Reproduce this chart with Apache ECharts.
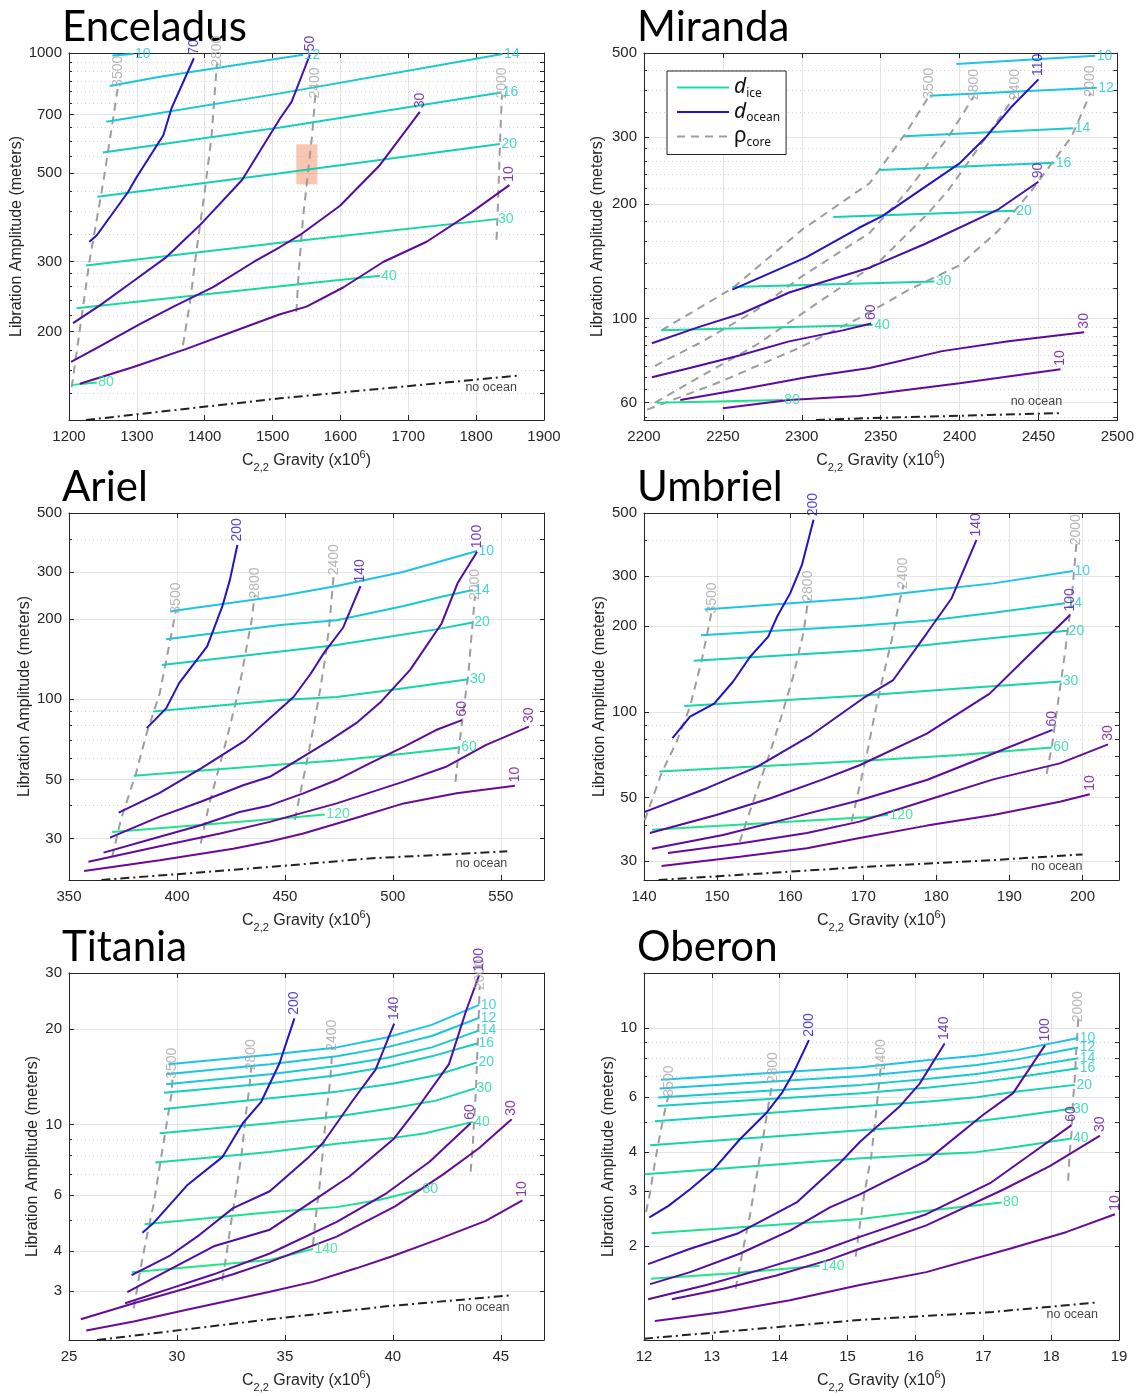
<!DOCTYPE html>
<html>
<head>
<meta charset="utf-8">
<title>Libration amplitude vs C22 gravity</title>
<script src="https://cdn.jsdelivr.net/npm/echarts@6.0.0/dist/echarts.min.js"></script>
<style>
  html, body { margin: 0; padding: 0; background: #fff; }
  #chart { width: 1137px; height: 1396px; }
</style>
</head>
<body>
<div id="chart"></div>
<script>
// ---------------- data (x = C22 gravity x1e6, y = libration amplitude in m) ----------------
// each line: [label, [[x, y], ...]]

// Enceladus
const encX = [1200, 1900, 100];
const encY = [120, 1000];
const encYTicks = [200, 300, 500, 700, 1000];
const encYMinor = [140, 160, 180, 220, 240, 260, 280, 350, 400, 450, 550, 600, 650, 750, 800, 850, 900, 950];
const encIce = [
  [10, [[1264, 985], [1295, 994]]],
  [12, [[1260, 826], [1334, 872], [1545, 990]]],
  [14, [[1255, 672], [1511, 792], [1839, 994]]],
  [16, [[1250, 563], [1511, 650], [1837, 796]]],
  [20, [[1242, 436], [1511, 499], [1835, 591]]],
  [30, [[1225, 293], [1511, 334], [1830, 383]]],
  [40, [[1211, 229], [1511, 260], [1658, 276]]],
  [80, [[1205, 147], [1241, 149]]]
];
const encOcean = [
  [70, [[1230, 336], [1241, 349], [1287, 448], [1300, 489], [1339, 622], [1351, 726], [1384, 970]]],
  [50, [[1206, 210], [1246, 233], [1290, 264], [1344, 308], [1393, 370], [1455, 480], [1511, 685], [1528, 754], [1555, 990]]],
  [30, [[1203, 168], [1246, 184], [1305, 209], [1354, 231], [1413, 259], [1472, 299], [1511, 326], [1540, 349], [1599, 413], [1658, 523], [1717, 712]]],
  [10, [[1216, 148], [1295, 163], [1373, 181], [1452, 203], [1511, 221], [1550, 231], [1604, 258], [1663, 299], [1727, 336], [1791, 396], [1849, 466]]]
];
const encCore = [
  [3500, [[1204, 145], [1230, 299], [1251, 480], [1273, 839]]],
  [2800, [[1368, 185], [1378, 235], [1388, 320], [1399, 436], [1410, 616], [1418, 942]]],
  [2400, [[1535, 224], [1539, 290], [1545, 388], [1551, 480], [1558, 616], [1563, 784]]],
  [2000, [[1830, 340], [1832, 411], [1834, 518], [1836, 653], [1838, 784]]]
];
const encNoOcean = [[1225, 120], [1511, 136], [1860, 155]];
const encBox = [[1535, 468], [1566, 590]];

// Miranda
const mirX = [2200, 2500, 50];
const mirY = [54, 500];
const mirYTicks = [60, 100, 200, 300, 500];
const mirYMinor = [55, 65, 70, 75, 80, 85, 90, 95, 120, 140, 160, 180, 220, 240, 260, 280, 350, 400, 450];
const mirIce = [
  [10, [[2398, 468], [2486, 492]]],
  [12, [[2381, 386], [2487, 405]]],
  [14, [[2365, 302], [2472, 317]]],
  [16, [[2349, 246], [2460, 257]]],
  [20, [[2320, 185], [2435, 192]]],
  [30, [[2256, 121], [2384, 125]]],
  [40, [[2211, 93], [2345, 96]]],
  [80, [[2208, 60], [2288, 61]]]
];
const mirOcean = [
  [110, [[2256, 119], [2303, 145], [2336, 173], [2351, 186], [2400, 256], [2417, 301], [2433, 361], [2450, 426]]],
  [90, [[2205, 86], [2235, 95], [2262, 103], [2292, 117], [2317, 126], [2343, 136], [2378, 157], [2424, 193], [2450, 229]]],
  [60, [[2205, 70], [2229, 74], [2261, 80], [2292, 87], [2326, 93], [2344, 97]]],
  [30, [[2223, 61], [2261, 65], [2303, 70], [2343, 74], [2389, 82], [2431, 87], [2479, 92]]],
  [10, [[2250, 58], [2292, 61], [2336, 62.5], [2400, 67.5], [2464, 73.5]]]
];
const mirCore = [
  [3500, [[2211, 93], [2256, 120], [2300, 171], [2343, 227], [2366, 308], [2381, 387]]],
  [2800, [[2207, 75], [2235, 86], [2271, 105], [2300, 129], [2343, 168], [2366, 214], [2393, 301], [2409, 384]]],
  [2400, [[2207, 60], [2235, 70], [2271, 85], [2313, 112], [2349, 141], [2380, 189], [2393, 218], [2417, 301], [2435, 384]]],
  [2000, [[2202, 57.5], [2248, 68], [2298, 83.5], [2336, 100], [2368, 119], [2400, 138], [2425, 171], [2446, 218], [2471, 301], [2483, 392]]]
];
const mirNoOcean = [[2309, 54], [2336, 54.5], [2465, 56.3]];

// Ariel
const arX = [350, 570, 50];
const arY = [21, 500];
const arYTicks = [30, 50, 100, 200, 300, 500];
const arYMinor = [40, 60, 70, 80, 90, 400];
const arIce = [
  [10, [[397, 214], [448, 244], [474, 266], [505, 301], [539, 360]]],
  [14, [[395, 168], [448, 190], [474, 198], [505, 224], [523, 243], [537, 257]]],
  [20, [[393, 134.5], [448, 151], [474, 160], [499, 172], [520, 183], [537, 194]]],
  [30, [[389, 90], [448, 99.4], [474, 102], [505, 110], [535, 119]]],
  [60, [[380, 51.7], [448, 57], [474, 59], [505, 62.5], [531, 66]]],
  [120, [[370, 31.8], [448, 35.7], [468.5, 37]]]
];
const arOcean = [
  [200, [[386, 78], [395, 92.5], [401, 115], [414, 158], [421, 223], [424.5, 280], [428, 379]]],
  [140, [[373, 37.6], [392, 44.6], [411, 55], [431.5, 70], [443, 85], [454, 102], [462, 125], [468, 149], [477, 186], [485, 266]]],
  [100, [[369, 30.3], [392, 36.3], [411, 41.3], [431, 47.7], [443, 51.2], [458.5, 61], [471, 70.3], [483, 81.4], [494, 97], [508, 129], [522.5, 192], [530, 273], [539, 358]]],
  [60, [[366, 26.6], [392, 30.5], [411, 33.7], [429, 37.8], [443, 40], [458.5, 44.4], [474, 49.8], [489, 57.4], [505, 66.3], [520, 76.7], [532, 83.6]]],
  [30, [[359, 24.6], [392, 28.1], [420, 31.4], [443, 34.7], [474, 40.7], [505, 49.1], [525, 56], [543, 67.3], [563, 79]]],
  [10, [[357, 22.7], [392, 24.9], [426, 27.5], [443, 29.3], [458.5, 31.4], [482, 35.7], [505, 40.7], [529.5, 44.4], [556.5, 47.4]]]
];
const arCore = [
  [3500, [[370, 25.6], [374, 35.3], [381, 52.7], [386, 74.7], [392, 105], [395, 140], [397.5, 177], [399.5, 216]]],
  [2800, [[411, 28.8], [415, 40.7], [420, 57.4], [424.5, 79], [429, 112], [432, 153], [434.6, 198], [436, 246]]],
  [2400, [[454.6, 35.3], [457.7, 46.9], [460, 57.4], [463, 76.7], [466, 105], [468.5, 140], [470.5, 187], [472.7, 301]]],
  [2000, [[529, 49], [530.7, 66.3], [532.5, 88.5], [535, 125], [536.4, 172], [538, 243]]]
];
const arNoOcean = [[365, 21], [443, 23.5], [489, 25.3], [553, 26.9]];

// Umbriel
const umX = [140, 205, 10];
const umY = [25.7, 500];
const umYTicks = [30, 50, 100, 200, 300, 500];
const umYMinor = [40, 60, 70, 80, 90, 400];
const umIce = [
  [10, [[148.3, 229], [169.5, 251], [178.7, 267], [187.8, 283], [198.7, 313]]],
  [14, [[147.8, 186], [169.5, 201], [178.7, 209], [187.8, 223], [197.6, 241]]],
  [20, [[146.8, 151.5], [169.5, 164], [178.7, 172], [187.8, 182], [197.9, 193]]],
  [30, [[145.5, 105], [169.5, 114], [183.2, 121], [197.1, 128]]],
  [60, [[142.1, 61.8], [169.5, 67.3], [183.2, 70.6], [195.8, 75]]],
  [120, [[141.1, 38.6], [170.9, 42.8], [173.4, 43.6]]]
];
const umOcean = [
  [200, [[143.9, 81], [146.3, 96.4], [149.6, 107], [152.2, 128], [154.5, 156], [157, 184], [158.2, 216], [160, 261], [161.6, 328], [163.2, 473]]],
  [140, [[140.1, 44.6], [148.6, 54], [155.4, 64], [162.9, 83], [170, 111.8], [174.1, 129.5], [178.7, 189], [182.1, 251], [185.5, 402]]],
  [100, [[140.8, 37.6], [149.9, 43.5], [157.2, 49.7], [164.5, 58], [169.5, 65], [178.7, 84], [187.3, 116], [192.4, 156], [198.3, 219]]],
  [60, [[141.1, 33.1], [150.8, 37], [160, 42.4], [169.5, 49], [178.7, 57.7], [187.8, 71.5], [195.9, 86.5]]],
  [30, [[143.3, 32], [153.1, 34.5], [162.3, 37.6], [169.5, 41.2], [178.7, 49], [187.8, 58], [196.9, 66], [203.5, 77]]],
  [10, [[142.4, 28.8], [153.1, 31], [162.3, 33.2], [169.5, 36.1], [178.7, 39.9], [187.8, 43.5], [196.9, 48.4], [201, 51.4]]]
];
const umCore = [
  [3500, [[140.1, 41.7], [142.4, 61], [144.5, 79], [146.3, 104.5], [147.9, 152], [149.3, 228]]],
  [2800, [[153.1, 35], [155, 49], [157.2, 71.5], [158.8, 96.4], [160.4, 133], [161.8, 189], [162.5, 251]]],
  [2400, [[168.4, 41.2], [169.8, 59.2], [170.7, 75.4], [171.6, 99], [172.7, 133], [173.9, 179], [174.7, 228], [175.5, 279]]],
  [2000, [[195.1, 60.6], [195.8, 75.4], [196.7, 110], [197.6, 161], [198.5, 247.5], [199.2, 396]]]
];
const umNoOcean = [[142, 25.7], [169.5, 28.5], [187.8, 30.2], [200, 31.6]];

// Titania
const tiX = [25, 47, 5];
const tiY = [2.1, 30];
const tiYTicks = [3, 4, 6, 10, 20, 30];
const tiYMinor = [5, 7, 8, 9];
const tiIce = [
  [10, [[29.6, 15.5], [34.3, 16.6], [37.4, 17.5], [39.7, 18.8], [41.8, 20.6], [44, 23.8]]],
  [12, [[29.5, 14.4], [34.3, 15.5], [37.4, 16.4], [39.7, 17.5], [41.8, 19], [44, 21.7]]],
  [14, [[29.5, 13.4], [34.3, 14.4], [37.4, 15.3], [39.7, 16.2], [41.8, 17.5], [44, 19.8]]],
  [16, [[29.4, 12.6], [34.3, 13.5], [37.4, 14.3], [39.7, 15.2], [41.8, 16.4], [43.9, 18]]],
  [20, [[29.4, 11.2], [34.3, 12.1], [37.4, 12.7], [40.1, 13.5], [42, 14.3], [43.9, 15.7]]],
  [30, [[29.2, 9.4], [34.3, 10.1], [37.4, 10.6], [40.1, 11.3], [42, 11.9], [43.8, 13]]],
  [40, [[29, 7.6], [34.3, 8.2], [37.4, 8.7], [40.1, 9.1], [41.5, 9.4], [43.7, 10.2]]],
  [80, [[28.5, 4.86], [34.3, 5.3], [37.4, 5.5], [39.4, 5.8], [41.3, 6.25]]],
  [140, [[27.9, 3.43], [34.3, 3.75], [36.3, 4.06]]]
];
const tiOcean = [
  [200, [[28.4, 4.57], [28.9, 4.89], [30.5, 6.47], [32.1, 7.9], [33.05, 10.1], [33.9, 11.8], [34.75, 15.6], [35.44, 21.6]]],
  [140, [[27.9, 3.36], [29.7, 3.88], [31.05, 4.5], [32.6, 5.46], [34.3, 6.17], [36.1, 7.9], [36.75, 8.74], [38.1, 11.8], [39.2, 14.9], [40.06, 20.8]]],
  [100, [[27.7, 2.97], [29.5, 3.45], [31.7, 4.14], [34.3, 4.67], [35.8, 5.46], [38, 6.88], [40.06, 9.05], [41.07, 11.1], [42.6, 15.5], [43.4, 22.9], [44, 29.6]]],
  [60, [[27.6, 2.74], [29.5, 3.02], [31.7, 3.38], [34.3, 3.93], [37.4, 4.94], [39.7, 6.08], [41.7, 7.64], [43.6, 10.1]]],
  [30, [[25.55, 2.44], [28, 2.74], [30.4, 3.05], [32.6, 3.38], [34.3, 3.7], [37.4, 4.44], [40.1, 5.53], [42.3, 6.95], [44, 8.44], [45.5, 10.4]]],
  [10, [[25.8, 2.25], [28, 2.4], [30.4, 2.61], [32.6, 2.81], [34.3, 2.98], [36.3, 3.2], [38.3, 3.53], [40, 3.86], [42, 4.33], [44.3, 4.98], [46, 5.78]]]
];
const tiCore = [
  [3500, [[28, 2.64], [28.3, 3.49], [28.6, 4.44], [28.9, 5.53], [29.2, 7.37], [29.5, 9.85], [29.75, 12.5], [29.8, 14.3]]],
  [2800, [[32.1, 3.23], [32.3, 3.93], [32.5, 4.89], [32.75, 6.25], [33, 8.12], [33.2, 10.9], [33.36, 13.2], [33.44, 15.2]]],
  [2400, [[36.3, 4.18], [36.45, 5.27], [36.6, 6.38], [36.75, 8.12], [36.9, 10.6], [37.1, 13.8], [37.2, 17.5]]],
  [2000, [[43.6, 7.11], [43.7, 8.53], [43.76, 10.3], [43.84, 12.5], [43.9, 16], [43.96, 20.3], [44.02, 27.2]]]
];
const tiNoOcean = [[26.3, 2.1], [34.3, 2.44], [39.7, 2.68], [45.4, 2.9]];

// Oberon
const obX = [12, 19, 1];
const obY = [1, 15];
const obYTicks = [2, 3, 4, 6, 10];
const obYMinor = [5, 7, 8, 9];
const obIce = [
  [10, [[12.25, 6.82], [15.2, 7.48], [16.2, 7.89], [16.9, 8.14], [17.5, 8.49], [18.4, 9.29]]],
  [12, [[12.23, 6.4], [15.2, 7.02], [16.2, 7.34], [16.9, 7.61], [17.5, 7.93], [18.4, 8.66]]],
  [14, [[12.21, 5.99], [15.2, 6.57], [16.2, 6.87], [16.9, 7.12], [17.5, 7.43], [18.4, 7.99]]],
  [16, [[12.2, 5.62], [15.2, 6.18], [16.2, 6.44], [16.9, 6.68], [17.5, 6.95], [18.4, 7.43]]],
  [20, [[12.16, 5.02], [15.2, 5.61], [16.2, 5.81], [16.9, 6.0], [17.5, 6.26], [18.35, 6.57]]],
  [30, [[12.09, 4.21], [15.2, 4.7], [16.2, 4.87], [16.9, 5.02], [17.5, 5.21], [18.3, 5.51]]],
  [40, [[12.01, 3.4], [15.2, 3.82], [16.2, 3.93], [16.9, 4.0], [17.5, 4.16], [18.3, 4.42]]],
  [80, [[12.11, 2.2], [15.2, 2.44], [16.2, 2.6], [17.27, 2.76]]],
  [140, [[12.1, 1.57], [13.37, 1.64], [14.59, 1.73]]]
];
const obOcean = [
  [200, [[12.08, 2.47], [12.36, 2.69], [12.68, 3.04], [13.02, 3.51], [13.41, 4.39], [13.81, 5.36], [14.03, 6.18], [14.21, 7.24], [14.43, 9.14]]],
  [140, [[12.06, 1.75], [12.68, 1.96], [13.37, 2.19], [13.95, 2.55], [14.25, 2.76], [14.89, 3.7], [15.18, 4.31], [15.77, 5.61], [16.06, 6.62], [16.43, 8.92]]],
  [100, [[12.09, 1.51], [12.68, 1.65], [13.41, 1.89], [14.15, 2.24], [14.74, 2.66], [15.18, 2.93], [16.16, 3.75], [17.0, 5.27], [17.44, 6.18], [17.91, 8.81]]],
  [60, [[12.06, 1.35], [12.92, 1.5], [13.76, 1.69], [14.64, 1.94], [15.18, 2.14], [16.16, 2.53], [17.1, 3.18], [17.73, 3.98], [18.3, 4.88]]],
  [30, [[12.41, 1.35], [13.17, 1.46], [13.95, 1.61], [14.74, 1.81], [15.18, 1.96], [16.16, 2.33], [17.29, 3.03], [17.98, 3.61], [18.72, 4.52]]],
  [10, [[12.16, 1.15], [13.17, 1.23], [14.15, 1.34], [15.18, 1.5], [16.16, 1.65], [17.39, 1.96], [18.23, 2.22], [18.94, 2.53]]]
];
const obCore = [
  [3500, [[12.03, 2.57], [12.09, 2.97], [12.16, 3.7], [12.24, 4.61], [12.31, 5.47], [12.37, 6.18]]],
  [2800, [[13.35, 1.46], [13.46, 1.96], [13.56, 2.5], [13.66, 3.36], [13.76, 4.5], [13.83, 5.61], [13.9, 6.82]]],
  [2400, [[15.12, 1.85], [15.18, 2.33], [15.25, 2.97], [15.35, 3.89], [15.43, 5.61], [15.49, 7.51]]],
  [2000, [[18.25, 3.24], [18.27, 3.89], [18.3, 4.61], [18.32, 5.75], [18.35, 6.98], [18.37, 8.49], [18.4, 10.7]]]
];
const obNoOcean = [[12, 1.01], [15.18, 1.16], [17.14, 1.23], [18.69, 1.32]];

const panels = [
  { name: 'Enceladus', x: encX, y: encY, ticks: encYTicks, minor: encYMinor, ice: encIce, ocean: encOcean, core: encCore, noOcean: encNoOcean },
  { name: 'Miranda', x: mirX, y: mirY, ticks: mirYTicks, minor: mirYMinor, ice: mirIce, ocean: mirOcean, core: mirCore, noOcean: mirNoOcean },
  { name: 'Ariel', x: arX, y: arY, ticks: arYTicks, minor: arYMinor, ice: arIce, ocean: arOcean, core: arCore, noOcean: arNoOcean },
  { name: 'Umbriel', x: umX, y: umY, ticks: umYTicks, minor: umYMinor, ice: umIce, ocean: umOcean, core: umCore, noOcean: umNoOcean },
  { name: 'Titania', x: tiX, y: tiY, ticks: tiYTicks, minor: tiYMinor, ice: tiIce, ocean: tiOcean, core: tiCore, noOcean: tiNoOcean },
  { name: 'Oberon', x: obX, y: obY, ticks: obYTicks, minor: obYMinor, ice: obIce, ocean: obOcean, core: obCore, noOcean: obNoOcean }
];

// ---------------- layout / style ----------------
const FONT = '"Liberation Sans", Arial, Helvetica, sans-serif';
const INK = '#262626';
const GRID_W = 475, GRID_H = 367;
const layout = [
  { left: 69, top: 53, tLeft: 62, tTop: 6, nameGap: 44, noOceanPos: 'bottom' },
  { left: 644, top: 53, tLeft: 637, tTop: 6, nameGap: 38, noOceanPos: 'top' },
  { left: 69, top: 513, tLeft: 62, tTop: 466, nameGap: 36, noOceanPos: 'bottom' },
  { left: 644, top: 513, tLeft: 637, tTop: 466, nameGap: 36, noOceanPos: 'bottom' },
  { left: 69, top: 973, tLeft: 62, tTop: 926, nameGap: 28, noOceanPos: 'bottom' },
  { left: 644, top: 973, tLeft: 637, tTop: 926, nameGap: 27, noOceanPos: 'bottom' }
];
const iceColor = {
  10: '#1ec3e8', 12: '#1bc6dc', 14: '#18c9d0', 16: '#16ccc3', 20: '#15d0b6', 30: '#17d5a8',
  40: '#1ad99d', 60: '#1cdc96', 80: '#1fe090', 120: '#22e38b', 140: '#24e588'
};
const oceanColors = ['#2212c8', '#440fae', '#540ba3', '#5e0a9e', '#660a99', '#6c0a96'];
const coreColor = '#9d9d9d';

const grids = [], xAxes = [], yAxes = [], series = [], titles = [];

function lbl(pt, text, extra) {
  return { value: pt, label: Object.assign({ show: true, formatter: text, fontSize: 14, fontFamily: FONT }, extra) };
}

panels.forEach((p, i) => {
  const L = layout[i];
  const [xmin, xmax, xstep] = p.x;
  grids.push({ left: L.left, top: L.top, width: GRID_W, height: GRID_H });
  titles.push({
    text: p.name, left: L.tLeft, top: L.tTop, padding: 0,
    textStyle: { fontSize: 42, fontWeight: 'normal', fontFamily: 'Lato, "Noto Sans", sans-serif', color: '#000' }
  });

  xAxes.push({
    gridIndex: i, type: 'value', min: xmin, max: xmax, interval: xstep,
    axisLine: { show: true, onZero: false, lineStyle: { color: INK } },
    axisTick: { inside: true, length: 5, lineStyle: { color: INK } },
    axisLabel: {
      fontSize: 15, color: INK, fontFamily: FONT, margin: 9,
      formatter: v => {
        const k = (v - xmin) / xstep;
        return Math.abs(k - Math.round(k)) < 1e-6 ? String(v) : '';
      }
    },
    splitLine: { show: true, lineStyle: { color: '#e4e4e4' } },
    name: '{c|C}{sub|2,2}{t| Gravity (x10}{sup|6}{t|)}',
    nameLocation: 'middle', nameGap: 29,
    nameTextStyle: {
      fontFamily: FONT, color: INK,
      rich: {
        c: { fontSize: 16, lineHeight: 24, verticalAlign: 'middle', color: INK, fontFamily: FONT },
        t: { fontSize: 16, lineHeight: 24, verticalAlign: 'middle', color: INK, fontFamily: FONT },
        sub: { fontSize: 11, lineHeight: 12, verticalAlign: 'bottom', color: INK, fontFamily: FONT },
        sup: { fontSize: 11, lineHeight: 12, verticalAlign: 'top', color: INK, fontFamily: FONT }
      }
    }
  });
  xAxes.push({
    gridIndex: i, type: 'value', position: 'top', min: xmin, max: xmax, interval: xstep,
    axisLine: { show: true, onZero: false, lineStyle: { color: INK } },
    axisTick: { inside: true, length: 5, lineStyle: { color: INK } },
    axisLabel: { show: false }, splitLine: { show: false }
  });

  // main log axis with labelled ticks
  yAxes.push({
    gridIndex: i, type: 'log', logBase: 10, min: p.y[0], max: p.y[1],
    axisLine: { show: true, onZero: false, lineStyle: { color: INK } },
    axisTick: { inside: true, length: 5, customValues: p.ticks, lineStyle: { color: INK } },
    axisLabel: { customValues: p.ticks, fontSize: 15, color: INK, fontFamily: FONT, margin: 7, formatter: v => String(v) },
    splitLine: { show: true, lineStyle: { color: '#e4e4e4' } },
    name: 'Libration Amplitude (meters)', nameLocation: 'middle', nameGap: L.nameGap,
    nameTextStyle: { fontSize: 16, color: INK, fontFamily: FONT }
  });
  // minor ticks + dotted grid
  yAxes.push({
    gridIndex: i, type: 'log', logBase: 10, min: p.y[0], max: p.y[1], position: 'left',
    axisLine: { show: false },
    axisTick: { inside: true, length: 3, customValues: p.minor, lineStyle: { color: INK } },
    axisLabel: { show: false },
    splitLine: { show: true, lineStyle: { color: '#cfcfcf', type: [1, 3] } }
  });
  // right frame
  yAxes.push({
    gridIndex: i, type: 'log', logBase: 10, min: p.y[0], max: p.y[1], position: 'right',
    axisLine: { show: true, onZero: false, lineStyle: { color: INK } },
    axisTick: { inside: true, length: 4, customValues: p.ticks.concat(p.minor), lineStyle: { color: INK } },
    axisLabel: { show: false }, splitLine: { show: false }
  });

  const xi = 2 * i, yi = 3 * i;
  const labels = [];
  const base = { type: 'line', xAxisIndex: xi, yAxisIndex: yi, symbol: 'none', showSymbol: false, silent: true, animation: false };

  p.core.forEach(([d, pts]) => {
    series.push(Object.assign({}, base, {
      name: 'rho_core', data: pts, z: 2,
      lineStyle: { color: coreColor, width: 2, type: [8, 6] }, itemStyle: { color: coreColor }
    }));
    labels.push(lbl(pts[pts.length - 1], String(d), {
      position: 'top', distance: -4, rotate: 90, align: 'left', verticalAlign: 'middle', color: '#a6a6a6'
    }));
  });

  p.ice.forEach(([d, pts]) => {
    const c = iceColor[d];
    series.push(Object.assign({}, base, {
      name: 'd_ice', data: pts, z: 3, lineStyle: { color: c, width: 2 }, itemStyle: { color: c }
    }));
    labels.push(lbl(pts[pts.length - 1], String(d), { position: 'right', distance: 1, color: c }));
  });

  p.ocean.forEach(([d, pts], k) => {
    const c = oceanColors[Math.min(k, oceanColors.length - 1)];
    series.push(Object.assign({}, base, {
      name: 'd_ocean', data: pts, z: 4, lineStyle: { color: c, width: 2 }, itemStyle: { color: c }
    }));
    labels.push(lbl(pts[pts.length - 1], String(d), {
      position: 'top', distance: 3, rotate: 90, align: 'left', verticalAlign: 'middle', color: c
    }));
  });

  const noOcean = Object.assign({}, base, {
    name: 'no ocean', data: p.noOcean, z: 3,
    lineStyle: { color: '#222', width: 2, type: [9, 4, 2, 4] }, itemStyle: { color: '#222' }
  });
  if (i === 0) {
    noOcean.markArea = {
      silent: true,
      itemStyle: { color: 'rgba(246,140,100,0.5)' },
      data: [[{ coord: encBox[0] }, { coord: encBox[1] }]]
    };
  }
  series.push(noOcean);
  labels.push(lbl(p.noOcean[p.noOcean.length - 1], 'no ocean', {
    position: L.noOceanPos, distance: 5, align: 'right', color: '#111', fontSize: 12.5
  }));

  series.push({
    type: 'scatter', name: 'labels', xAxisIndex: xi, yAxisIndex: yi, data: labels,
    symbol: 'circle', symbolSize: 1, itemStyle: { color: 'rgba(0,0,0,0)' },
    silent: true, clip: false, z: 10, animation: false
  });
});

const legendRich = {
  d: { fontSize: 21, fontStyle: 'italic', fontFamily: '"Noto Sans", sans-serif', color: '#111', lineHeight: 24, verticalAlign: 'middle' },
  r: { fontSize: 21, fontFamily: '"Noto Sans", sans-serif', color: '#111', lineHeight: 24, verticalAlign: 'middle' },
  s: { fontSize: 12, fontFamily: '"Noto Sans", sans-serif', color: '#111', lineHeight: 12, verticalAlign: 'bottom' }
};

const option = {
  animation: false,
  backgroundColor: '#fff',
  textStyle: { fontFamily: FONT },
  title: titles,
  grid: grids,
  xAxis: xAxes,
  yAxis: yAxes,
  legend: {
    left: 667, top: 71, orient: 'vertical',
    padding: [6, 6, 6, 9], itemGap: 2, itemWidth: 52, itemHeight: 24,
    borderColor: '#222', borderWidth: 1, borderRadius: 0, backgroundColor: '#fff',
    selectedMode: false,
    data: [
      { name: 'd_ice', lineStyle: { color: '#1edba6', width: 2 }, itemStyle: { color: '#1edba6', opacity: 0 } },
      { name: 'd_ocean', lineStyle: { color: '#2212c8', width: 2 }, itemStyle: { color: '#2212c8', opacity: 0 } },
      { name: 'rho_core', lineStyle: { color: coreColor, width: 2, type: [8, 6] }, itemStyle: { color: coreColor, opacity: 0 } }
    ],
    formatter: n => n === 'd_ice' ? '{d|d}{s|ice}' : n === 'd_ocean' ? '{d|d}{s|ocean}' : '{r|ρ}{s|core}',
    textStyle: { rich: legendRich }
  },
  series: series
};

const chart = echarts.init(document.getElementById('chart'));
chart.setOption(option);
</script>
</body>
</html>
